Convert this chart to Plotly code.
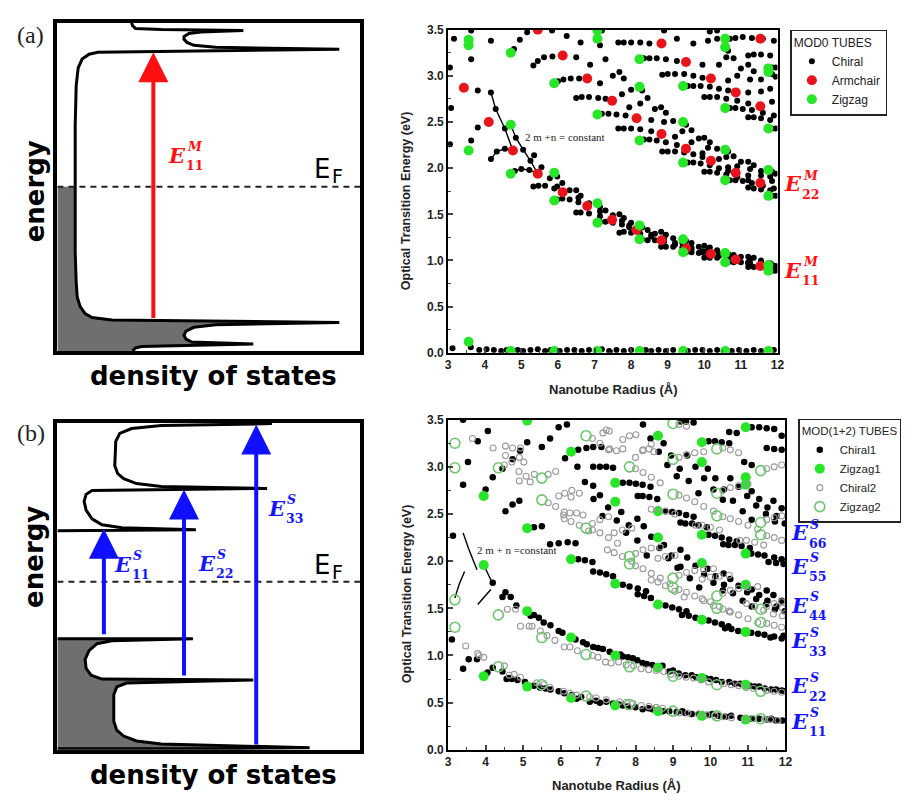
import plotly.graph_objects as go

W, H = 922, 802
def px(x): return x / W
def py(y): return 1 - y / H

# ---------------------------------------------------------------- DATA
# Panel (a): metallic (MOD0) tubes, radius (Angstrom) vs transition energy (eV)
armchair_a = [(3.43,2.87),(4.11,2.50),(4.77,2.19),(5.45,1.94),(6.13,1.74),(6.80,1.59),(7.48,1.44),(8.15,1.33),
              (8.83,1.22),(9.50,1.13),(10.18,1.07),(10.86,1.01),(11.53,0.94),
              (5.45,3.50),(6.13,3.22),(6.80,2.97),(7.48,2.73),(8.15,2.54),(8.83,2.37),(9.50,2.21),(10.18,2.08),
              (10.86,1.95),(11.53,1.84),(8.83,3.35),(9.50,3.15),(10.18,2.97),(10.86,2.82),(11.53,2.67),(11.53,3.40)]
zigzag_a = [(3.56,3.39),(3.56,3.33),(3.56,2.19),(3.56,0.12),(4.71,3.25),(4.71,2.47),(4.71,1.94),(4.71,0.02),
            (5.90,2.92),(5.90,1.95),(5.90,1.65),(5.90,0.02),(7.08,3.49),(7.08,3.40),(7.08,2.58),(7.08,1.62),
            (7.08,1.41),(7.08,0.02),(8.23,3.18),(8.23,2.88),(8.23,2.30),(8.23,1.38),(8.23,1.23),(8.23,0.02),
            (9.42,2.89),(9.42,2.50),(9.42,2.06),(9.42,1.23),(9.42,1.09),(9.42,0.02),
            (10.57,3.40),(10.57,3.31),(10.57,2.65),(10.57,2.20),(10.57,1.87),(10.57,1.08),(10.57,0.98),(10.57,0.02),
            (11.75,3.08),(11.75,3.04),(11.75,2.43),(11.75,1.98),(11.75,1.70),(11.75,0.95),(11.75,0.89),(11.75,0.02)]
chiral_a_zero = [(3.12,0.05),(3.62,0.06),(3.85,0.03),(4.05,0.04),(4.25,0.03),(4.45,0.02),(4.60,0.03),(4.90,0.03),
                 (5.05,0.02),(5.25,0.03),(5.45,0.04),(5.65,0.02),(5.80,0.03),(6.05,0.02),(6.25,0.03),(6.45,0.03),
                 (6.65,0.02),(6.85,0.03),(7.20,0.04),(7.40,0.02),(7.60,0.03),(7.80,0.02),(8.00,0.03),(8.40,0.03),
                 (8.55,0.02),(8.75,0.03),(8.95,0.02),(9.15,0.03),(9.55,0.02),(9.75,0.03),(9.95,0.03),(10.15,0.02),
                 (10.35,0.03),(10.75,0.02),(10.95,0.03),(11.15,0.02),(11.35,0.03),(11.55,0.02),(11.90,0.03)]
chiral_a_e11 = [(3.05,2.26),(3.08,2.65),(3.63,2.30),(3.81,2.44),(3.63,3.18),(3.81,2.84),
                (4.17,2.10),(4.33,2.18),(4.55,2.21),(4.17,2.82),(4.30,2.64),(4.55,2.43),
                (4.82,1.97),(5.00,1.99),(5.22,1.98),(4.85,2.33),(5.05,2.20),(5.25,2.08),
                (5.33,1.80),(5.47,1.81),(5.65,1.81),(5.90,1.78),(5.35,2.14),(5.55,2.01),(5.78,1.89),(5.98,1.80),
                (5.98,1.66),(6.12,1.67),(6.32,1.66),(6.56,1.63),(5.98,1.91),(6.12,1.84),(6.32,1.76),(6.56,1.68),
                (6.50,1.52),(6.62,1.52),(6.85,1.51),(7.15,1.48),(6.50,1.76),(6.62,1.70),(6.85,1.62),(7.15,1.53),
                (7.15,1.42),(7.30,1.42),(7.50,1.41),(7.75,1.39),(7.95,1.36),(7.15,1.58),(7.30,1.54),(7.50,1.49),(7.75,1.43),(7.95,1.38),
                (7.68,1.30),(7.80,1.31),(8.00,1.30),(8.25,1.29),(8.55,1.26),(7.68,1.50),(7.80,1.46),(8.00,1.41),(8.25,1.35),(8.55,1.28),
                (8.30,1.23),(8.45,1.22),(8.65,1.22),(8.90,1.20),(9.20,1.17),(8.30,1.36),(8.45,1.33),(8.65,1.29),(8.90,1.24),(9.20,1.19),
                (8.82,1.15),(8.95,1.15),(9.15,1.15),(9.40,1.14),(9.65,1.12),(9.95,1.09),(8.82,1.31),(8.95,1.28),(9.15,1.24),(9.40,1.19),(9.65,1.14),(9.95,1.10),
                (9.50,1.09),(9.65,1.09),(9.85,1.08),(10.10,1.07),(10.40,1.05),(10.65,1.03),(9.50,1.21),(9.65,1.19),(9.85,1.15),(10.10,1.11),(10.40,1.07),(10.65,1.03),
                (10.00,1.03),(10.15,1.03),(10.35,1.03),(10.60,1.02),(10.90,1.00),(11.20,0.97),(10.00,1.16),(10.15,1.14),(10.35,1.11),(10.60,1.07),(10.90,1.02),(11.20,0.98),
                (10.65,0.98),(10.80,0.98),(11.00,0.98),(11.25,0.97),(11.55,0.96),(11.85,0.94),(10.65,1.07),(10.80,1.06),(11.00,1.04),(11.25,1.01),(11.55,0.98),(11.85,0.95),
                (11.20,0.93),(11.35,0.93),(11.55,0.93),(11.80,0.92),(11.20,1.04),(11.35,1.03),(11.55,1.00),(11.80,0.97),
                (11.85,0.89),(11.95,0.89),(11.85,0.95),(11.95,0.94)]
chiral_a_e22 = [(4.17,3.38),(4.80,3.29),(4.96,3.39),(5.16,3.47),(5.33,3.11),(5.45,3.16),(5.62,3.20),(5.85,3.21),
                (6.00,2.94),(6.15,2.96),(6.35,2.97),(6.58,2.97),(6.50,2.76),(6.65,2.77),(6.85,2.77),(7.10,2.76),(7.30,2.75),
                (7.20,2.59),(7.38,2.59),(7.60,2.58),(7.85,2.57),(7.65,2.43),(7.80,2.43),(8.00,2.43),(8.25,2.42),(8.55,2.40),
                (8.35,2.31),(8.50,2.31),(8.70,2.30),(8.95,2.28),(9.25,2.25),(8.85,2.18),(9.00,2.18),(9.20,2.18),(9.45,2.17),(9.70,2.15),(9.95,2.12),
                (9.55,2.06),(9.70,2.06),(9.90,2.05),(10.15,2.03),(10.40,2.00),(10.65,1.97),(10.00,1.96),(10.15,1.96),(10.35,1.95),(10.60,1.93),(10.90,1.90),(11.20,1.87),
                (10.70,1.87),(10.85,1.87),(11.05,1.86),(11.30,1.84),(11.60,1.81),(11.90,1.78),(11.20,1.79),(11.35,1.78),(11.55,1.77),(11.80,1.76),
                (11.85,1.70),(11.95,1.70),
                (6.24,3.43),(6.50,3.20),(6.62,3.36),(6.88,3.12),(7.15,2.92),(7.15,3.33),(7.30,3.18),(7.50,3.00),(7.75,2.80),(7.95,2.66),
                (7.68,3.04),(7.80,2.97),(8.00,2.85),(8.25,2.70),(8.55,2.52),(8.30,2.84),(8.45,2.76),(8.65,2.64),(8.90,2.50),(9.20,2.34),
                (8.82,2.66),(8.95,2.60),(9.15,2.51),(9.40,2.40),(9.65,2.28),(9.95,2.16),(9.50,2.47),(9.65,2.41),(9.85,2.32),(10.10,2.22),(10.40,2.10),(10.65,2.01),
                (10.00,2.33),(10.15,2.28),(10.35,2.21),(10.60,2.12),(10.90,2.02),(11.20,1.92),(10.65,2.18),(10.80,2.13),(11.00,2.07),(11.25,1.99),(11.55,1.92),(11.85,1.86),
                (11.20,2.07),(11.35,2.03),(11.55,1.97),(11.80,1.91),(11.85,1.96),(11.95,1.94)]
chiral_a_e33 = [(3.05,3.09),(3.16,3.40),(3.63,3.49),(5.84,3.49),(7.20,3.49),(8.90,3.49),
                (7.65,3.36),(7.80,3.36),(8.00,3.36),(8.25,3.36),(8.50,3.35),(8.35,3.19),(8.50,3.19),(8.70,3.19),(8.95,3.18),(9.25,3.16),
                (8.85,3.01),(9.00,3.02),(9.20,3.02),(9.45,3.02),(9.70,3.00),(9.95,2.98),(9.55,2.89),(9.70,2.89),(9.90,2.89),(10.15,2.88),(10.40,2.86),(10.65,2.84),
                (10.00,2.77),(10.15,2.77),(10.35,2.77),(10.60,2.75),(10.90,2.73),(11.20,2.70),(10.70,2.65),(10.85,2.65),(11.05,2.64),(11.30,2.63),(11.60,2.60),(11.90,2.57),
                (11.20,2.55),(11.35,2.55),(11.55,2.54),(11.80,2.52),(11.85,2.43),(11.95,2.43),
                (9.25,3.40),(9.70,3.35),(9.95,3.12),(10.10,3.38),(10.40,3.12),(10.65,2.95),(10.35,3.40),(10.60,3.20),(10.90,3.00),(11.20,2.82),
                (10.65,3.27),(10.80,3.19),(11.00,3.08),(11.25,2.96),(11.55,2.83),(11.85,2.72),(11.20,3.12),(11.35,3.05),(11.55,2.96),(11.80,2.86),
                (11.85,3.02),(11.95,2.99),(10.70,3.40),(10.85,3.41),(11.05,3.42),(11.30,3.41),(11.60,3.40),(11.90,3.38),
                (11.20,3.22),(11.35,3.23),(11.55,3.23),(11.80,3.22),(11.85,3.09),(11.95,3.09),(10.15,3.48),(10.35,3.49)]
# lines linking members of two 2n+m families in panel (a)
family_a = [[(4.17,2.82),(4.30,2.64),(4.55,2.43),(4.77,2.19)],
            [(4.71,2.47),(4.85,2.33),(5.05,2.20),(5.25,2.08),(5.45,1.94)],
            [(4.17,2.10),(4.33,2.18),(4.55,2.21),(4.77,2.19)],
            [(4.71,1.94),(4.82,1.97),(5.00,1.99),(5.22,1.98),(5.45,1.94)]]

# Panel (b): semiconducting MOD(1+2) tubes
zigzag1_b = [(3.95,0.78),(3.95,1.96),(3.95,2.69),(5.11,0.67),(5.11,1.47),(5.11,2.35),(5.11,3.49),
             (6.28,0.55),(6.28,1.19),(6.28,2.02),(6.28,3.16),(7.46,0.47),(7.46,1.00),(7.46,1.76),(7.46,2.63),(7.46,2.83),
             (8.60,0.41),(8.60,0.87),(8.60,1.54),(8.60,2.25),(8.60,2.53),(8.60,3.33),
             (9.77,0.36),(9.77,0.76),(9.77,1.38),(9.77,1.98),(9.77,2.28),(9.77,3.05),(9.77,3.26),
             (10.94,0.32),(10.94,0.69),(10.94,1.25),(10.94,1.75),(10.94,2.08),(10.94,2.81),(10.94,2.89),(10.94,3.42)]
zigzag2_b = [(3.18,1.30),(3.18,1.59),(3.18,2.99),(3.18,3.25),(4.34,0.88),(4.34,1.43),(4.34,2.99),
             (5.50,0.69),(5.50,1.19),(5.50,2.65),(5.50,2.88),(6.68,0.57),(6.68,1.01),(6.68,2.35),(6.68,3.33),
             (7.84,0.48),(7.84,0.88),(7.84,1.97),(7.84,2.05),(7.84,3.00),
             (9.00,0.41),(9.00,0.78),(9.00,1.72),(9.00,1.82),(9.00,2.71),(9.00,3.08),(9.00,3.46),
             (10.17,0.36),(10.17,0.69),(10.17,1.50),(10.17,1.63),(10.17,2.48),(10.17,2.72),(10.17,3.19),
             (11.34,0.33),(11.34,0.62),(11.34,1.35),(11.34,1.49),(11.34,2.28),(11.34,2.41),(11.34,2.96)]
chiral1_b_low = [(3.10,1.17),(3.40,0.86),(3.55,0.96),(3.77,0.96),(4.05,0.82),(4.19,0.87),(4.45,0.83),(4.56,0.75),(4.62,0.76),
                 (4.70,0.75),(4.85,0.74),(5.05,0.72),(5.29,0.68),(5.45,0.66),(5.60,0.65),(5.73,0.64),(5.95,0.62),(6.10,0.60),
                 (6.30,0.58),(6.43,0.54),(6.55,0.56),(6.78,0.51),(6.95,0.52),(7.05,0.50),(7.22,0.51),(7.40,0.49),(7.55,0.48),
                 (7.66,0.47),(7.80,0.46),(8.00,0.45),(8.19,0.43),(8.35,0.44),(8.45,0.43),(8.73,0.41),(8.90,0.41),(9.10,0.40),
                 (9.25,0.41),(9.33,0.39),(9.50,0.38),(9.70,0.38),(9.95,0.37),(10.05,0.38),(10.21,0.36),(10.40,0.35),(10.55,0.36),
                 (10.80,0.34),(11.10,0.33),(11.30,0.33),(11.50,0.32),(11.62,0.33),(11.75,0.31),(11.92,0.31),
                 (4.19,1.77),(4.45,1.62),(4.53,1.67),(4.67,1.62),(4.82,1.53),(5.20,1.42),(5.29,1.43),(5.42,1.40),(5.55,1.35),
                 (5.73,1.32),(5.95,1.26),(6.05,1.24),(6.40,1.17),(6.60,1.14),(6.70,1.12),(6.87,1.09),(7.00,1.08),(7.13,1.07),
                 (7.31,1.04),(7.60,1.01),(7.66,0.99),(7.80,0.98),(7.93,0.97),(8.05,0.95),(8.19,0.92),(8.30,0.91),(8.45,0.90),
                 (8.72,0.89),(8.89,0.83),(9.00,0.84),(9.15,0.81),(9.33,0.79),(9.50,0.79),(9.62,0.77),(9.86,0.76),(10.00,0.75),
                 (10.15,0.74),(10.30,0.72),(10.50,0.72),(10.65,0.70),(10.80,0.70),(11.05,0.68),(11.18,0.67),(11.30,0.67),
                 (11.45,0.65),(11.62,0.64),(11.75,0.64),(11.90,0.63),(11.98,0.62)]
chiral1_b_mid = [(4.00,2.76),(4.19,2.89),(4.45,2.98),(4.72,3.08),(4.92,3.17),(4.53,2.53),(4.72,2.60),(4.90,2.64),
                 (5.29,2.36),(5.50,2.37),(5.72,2.18),(5.95,2.19),(6.19,2.20),(6.40,2.19),
                 (6.47,2.02),(6.65,2.01),(6.85,1.99),(6.87,1.89),(7.05,1.88),(7.22,1.86),(7.40,1.84),(7.66,1.75),(7.84,1.73),
                 (8.06,1.71),(8.28,1.68),(8.06,1.65),(8.23,1.63),(8.41,1.61),(8.80,1.53),(8.98,1.51),(9.16,1.49),(9.36,1.47),
                 (9.24,1.43),(9.42,1.42),(9.60,1.40),(9.95,1.37),(10.12,1.35),(10.30,1.33),(10.48,1.31),(10.39,1.29),(10.56,1.28),
                 (10.74,1.26),(11.09,1.24),(11.27,1.23),(11.44,1.22),(11.60,1.19),(11.70,1.20),(11.90,1.18),(11.95,1.21),
                 (6.45,3.00),(6.65,2.84),(6.88,2.66),(7.12,2.48),(6.87,2.80),(7.05,2.70),(7.27,2.57),(7.50,2.43),(7.75,2.30),
                 (7.62,2.52),(7.82,2.38),(8.05,2.22),(8.30,2.06),(8.05,2.45),(8.22,2.37),(8.42,2.26),(8.64,2.14),(8.88,2.03),(9.12,1.93),
                 (8.76,2.17),(8.96,2.06),(9.20,1.94),(9.45,1.82),(9.70,1.72),(9.20,2.12),(9.38,2.04),(9.60,1.95),(9.83,1.86),(10.08,1.77),(10.33,1.69),
                 (9.93,1.92),(10.13,1.84),(10.36,1.75),(10.60,1.66),(10.86,1.58),(11.10,1.52),
                 (10.35,1.87),(10.53,1.81),(10.75,1.74),(10.98,1.67),(11.22,1.60),(11.48,1.54),(11.72,1.49),
                 (11.10,1.70),(11.30,1.64),(11.52,1.58),(11.76,1.52),(11.98,1.47),(11.50,1.69),(11.68,1.64),(11.90,1.58)]
chiral1_b_high = [(3.13,2.27),(3.40,2.81),(3.53,3.05),(3.79,3.27),(3.40,3.50),(4.06,3.38),(5.11,3.26),(5.50,3.21),
                  (5.72,3.30),(5.95,3.42),(6.17,3.45),(6.12,3.09),
                  (6.47,3.18),(6.69,3.20),(6.87,3.21),(7.09,3.21),(6.87,3.00),(7.05,3.00),(7.22,3.00),(7.40,2.99),
                  (7.66,2.83),(7.84,2.83),(8.01,2.82),(8.19,2.81),(8.40,2.79),(8.06,2.69),(8.19,2.69),(8.37,2.68),(8.58,2.66),
                  (8.80,2.53),(8.98,2.52),(9.16,2.51),(9.35,2.49),(9.55,2.47),(9.20,2.41),(9.33,2.40),(9.51,2.40),(9.68,2.38),(9.90,2.36),
                  (9.95,2.28),(10.12,2.27),(10.30,2.25),(10.50,2.23),(10.70,2.21),(10.34,2.18),(10.48,2.17),(10.65,2.17),(10.83,2.16),(11.05,2.14),
                  (11.09,2.08),(11.27,2.07),(11.44,2.06),(11.70,2.04),(11.90,2.02),(11.55,1.99),(11.75,1.98),(11.95,1.97),
                  (8.20,3.45),(8.40,3.30),(8.62,3.16),(8.85,3.02),(9.10,2.90),(8.75,3.25),(8.95,3.12),(9.18,2.98),(9.42,2.85),(9.68,2.72),
                  (9.38,3.12),(9.60,3.00),(9.83,2.88),(10.08,2.76),(10.33,2.65),(9.93,2.98),(10.13,2.88),(10.36,2.76),(10.60,2.64),(10.86,2.53),(11.10,2.44),
                  (10.53,2.88),(10.75,2.79),(10.98,2.69),(11.22,2.59),(11.48,2.50),(11.72,2.42),(11.10,2.74),(11.30,2.66),(11.52,2.57),(11.76,2.48),(11.98,2.40),
                  (11.68,2.64),(11.90,2.56),(9.95,3.27),(10.12,3.27),(10.30,3.26),(10.50,3.25),(10.50,3.37),(10.70,3.36),(11.10,3.42),(11.30,3.42),
                  (11.50,3.41),(11.70,3.40),(11.50,3.20),(11.70,3.19),(11.90,3.18),(9.20,3.48),(9.35,3.48),(9.55,3.47),(11.90,3.33),(10.90,3.05),(11.10,3.02)]
chiral2_b_low = [(3.47,1.10),(3.79,1.02),(3.83,1.00),(3.95,0.98),(4.50,0.89),(4.63,0.79),(4.76,0.80),(4.93,0.77),(5.37,0.71),(5.55,0.69),
                 (5.72,0.66),(6.08,0.62),(6.25,0.60),(6.43,0.58),(6.78,0.56),(6.95,0.55),(7.22,0.53),(7.57,0.51),(7.75,0.50),(7.93,0.49),
                 (8.15,0.47),(8.36,0.46),(8.55,0.45),(8.72,0.44),(9.16,0.39),(9.40,0.39),(9.68,0.38),(9.90,0.37),(10.12,0.36),(10.35,0.35),
                 (10.56,0.34),(10.92,0.33),(11.15,0.33),(11.44,0.32),(11.60,0.32),(11.80,0.31),
                 (4.58,1.49),(4.80,1.49),(4.93,1.31),(5.16,1.31),(5.24,1.31),(5.46,1.26),(5.64,1.21),(5.85,1.16),(6.10,1.09),(6.25,1.09),
                 (6.45,1.05),(6.85,1.00),(7.00,0.98),(7.20,0.93),(7.35,0.92),(7.55,0.93),(7.75,0.90),(7.95,0.89),(8.15,0.86),(8.35,0.85),
                 (8.55,0.84),(8.75,0.83),(8.95,0.80),(9.15,0.78),(9.35,0.77),(9.55,0.76),(9.75,0.74),(9.95,0.72),(10.35,0.70),(10.55,0.69),
                 (10.75,0.68),(10.95,0.66),(11.15,0.65),(11.50,0.63),(11.70,0.62),(11.90,0.61)]
chiral2_b_high = [(8.00,1.95),(8.20,1.92),(8.42,1.87),(8.66,1.82),(8.92,1.76),(8.00,2.08),(8.20,2.12),(8.42,2.14),(8.66,2.15),
                  (8.42,1.80),(8.60,1.78),(8.80,1.74),(9.05,1.68),(9.30,1.62),(8.60,2.03),(8.80,2.05),(9.05,2.06),
                  (9.16,1.70),(9.36,1.67),(9.58,1.63),(9.82,1.58),(10.08,1.53),(9.16,1.85),(9.36,1.88),(9.58,1.90),(9.82,1.91),(10.08,1.92),
                  (9.78,1.60),(10.00,1.57),(10.24,1.52),(10.50,1.47),(9.78,1.81),(10.00,1.83),(10.24,1.84),(10.50,1.85),
                  (10.33,1.49),(10.53,1.46),(10.75,1.43),(11.00,1.39),(11.26,1.35),(10.33,1.66),(10.53,1.69),(10.75,1.71),(11.00,1.72),(11.26,1.73),
                  (10.96,1.55),(11.18,1.52),(11.42,1.48),(11.68,1.44),(11.50,1.34),(11.70,1.32),(11.90,1.30),(11.50,1.52),(11.70,1.55),(11.90,1.57),
                  (11.92,1.42),(11.92,1.50),
                  (6.85,2.33),(7.05,2.30),(7.28,2.25),(7.52,2.19),(6.85,2.40),(7.05,2.44),(7.28,2.47),
                  (5.67,2.62),(5.87,2.58),(6.10,2.52),(5.67,2.92),(5.87,2.95),(6.10,2.45),(6.28,2.42),(6.50,2.38),(6.75,2.32),
                  (6.28,2.68),(6.50,2.72),(7.25,2.12),(7.43,2.09),(7.65,2.05),(7.90,2.00),(7.43,2.30),(7.65,2.33),(7.90,2.35),
                  (4.50,3.02),(4.70,3.05),(4.90,3.10),(4.90,2.85),(5.08,2.90),(5.30,2.92),
                  (6.85,3.30),(7.05,3.25),(7.28,3.18),(8.00,2.98),(8.20,2.94),(8.42,2.89),(8.66,2.83),(8.00,3.10),(8.20,3.18),(8.42,3.24),
                  (9.16,2.70),(9.36,2.67),(9.58,2.63),(9.82,2.58),(10.08,2.53),(9.16,3.10),(9.36,3.13),(9.58,3.15),(9.82,3.16),
                  (9.16,3.45),(9.36,3.43),(10.33,2.47),(10.53,2.45),(10.75,2.42),(11.00,2.38),(11.26,2.34),
                  (10.33,2.75),(10.53,2.78),(10.75,2.80),(11.00,2.82),(10.33,3.20),(10.53,3.18),(10.75,3.15),
                  (11.50,2.27),(11.70,2.25),(11.90,2.22),(11.50,2.44),(11.70,2.46),(11.90,2.48),(11.50,2.98),(11.70,3.00),(11.90,3.02),
                  (8.42,2.55),(8.60,2.55),(8.80,2.53),(9.05,2.50),(9.60,2.38),(9.78,2.38),(10.00,2.36),(10.24,2.33),
                  (10.78,2.22),(10.96,2.22),(11.18,2.20),(11.42,2.17),
                  (4.53,3.22),(4.72,3.20),(4.93,3.20),(4.53,3.12),(5.02,3.05),(4.89,2.95),(5.19,2.84),(5.95,2.69),(6.11,2.72),(6.30,2.75),
                  (6.08,2.49),(6.25,2.51),(6.43,2.51),(6.60,2.49),(7.13,3.36),(7.22,3.39),(7.30,3.38),(7.66,3.29),(7.84,3.33),(8.01,3.34),
                  (7.31,3.19),(7.49,3.17),(7.66,3.19),(8.19,3.17),(8.36,3.19),(8.49,3.16),(3.65,3.30),(4.20,3.20)]
family_b = [[(3.40,2.30),(3.55,2.13),(3.77,1.91)], [(3.95,1.96),(4.19,1.76)],
            [(3.18,1.61),(3.30,1.76),(3.44,1.89)], [(3.79,1.54),(3.97,1.62),(4.14,1.70)]]

# Schematic density-of-states curves (dos position, energy position) in drawing units
dos_a_curve = [(130,16),(131,19),(134,22),(160,23),(243,24),(200,25.5),(188,27),(183,30),(183,33),(186,36),(193,39),
               (215,41),(340,43),(140,45.5),(96,46),(87,48),(80,53),(76,62),(74,80),(73,120),(73,183),(73,250),(74,280),
               (75,295),(78,305),(83,312),(90,316),(110,318.5),(340,321),(215,323.5),(193,326),(185,330),(183,334),(185,338),
               (191,341),(253,343),(140,345.5),(134,347),(131,350)]
dos_b_upper = [(272,424),(160,426),(130,429),(118,434),(114,442),(113,467),(116,475),(122,480),(135,485),(160,488),
               (267,490),(110,492),(90,492),(84,496),(82,503),(84,512),(90,521),(100,527),(120,530),(195,532),(55,533)]
dos_b_lower = [(55,643),(192,643),(110,645),(95,648),(87,655),(83,664),(84,673),(89,680),(100,684),(253,685),(125,688),
               (115,692),(112,700),(112,727),(115,736),(122,742),(135,747),(160,750),(310,754),(200,755),(55,755)]
filled_a_top = 183
fermi_a, fermi_b = 183, 585
arrows_a = [(152, 318, 46)]
arrows_b = [(102, 640, 531), (183, 682, 491), (256, 752, 425)]
inner_labels = [(176, 151, 'M', '11', '#ff1010'), (121, 567, 'S', '11', '#1414ff'),
                (206, 566, 'S', '22', '#1414ff'), (277, 510, 'S', '33', '#1414ff')]
side_labels_a = [(180, '22'), (268, '11')]
side_labels_b = [(535, '66'), (569, '55'), (609, '44'), (645, '33'), (691, '22'), (727, '11')]

# ---------------------------------------------------------------- FIGURE
fig = go.Figure()
def xs(p): return [q[0] for q in p]
def ys(p): return [q[1] for q in p]

# (a) Kataura plot
for line in family_a:
    fig.add_trace(go.Scatter(x=xs(line), y=ys(line), mode='lines', line=dict(color='black', width=1.4),
                             showlegend=False, hoverinfo='skip', xaxis='x', yaxis='y'))
chiral_a = chiral_a_zero + chiral_a_e11 + chiral_a_e22 + chiral_a_e33
fig.add_trace(go.Scatter(x=xs(chiral_a), y=ys(chiral_a), mode='markers', name='Chiral',
                         marker=dict(color='black', size=6), xaxis='x', yaxis='y', legend='legend'))
fig.add_trace(go.Scatter(x=xs(armchair_a), y=ys(armchair_a), mode='markers', name='Armchair',
                         marker=dict(color='#e8141b', size=10), xaxis='x', yaxis='y', legend='legend'))
fig.add_trace(go.Scatter(x=xs(zigzag_a), y=ys(zigzag_a), mode='markers', name='Zigzag',
                         marker=dict(color='#27e627', size=10), xaxis='x', yaxis='y', legend='legend'))

# (b) Kataura plot
for line in family_b:
    fig.add_trace(go.Scatter(x=xs(line), y=ys(line), mode='lines', line=dict(color='black', width=1.4),
                             showlegend=False, hoverinfo='skip', xaxis='x2', yaxis='y2'))
chiral1_b = chiral1_b_low + chiral1_b_mid + chiral1_b_high
chiral2_b = chiral2_b_low + chiral2_b_high
fig.add_trace(go.Scatter(x=xs(chiral1_b), y=ys(chiral1_b), mode='markers', name='Chiral1',
                         marker=dict(color='black', size=6.5), xaxis='x2', yaxis='y2', legend='legend2'))
fig.add_trace(go.Scatter(x=xs(zigzag1_b), y=ys(zigzag1_b), mode='markers', name='Zigzag1',
                         marker=dict(color='#27e627', size=10), xaxis='x2', yaxis='y2', legend='legend2'))
fig.add_trace(go.Scatter(x=xs(chiral2_b), y=ys(chiral2_b), mode='markers', name='Chiral2',
                         marker=dict(symbol='circle-open', color='#9a9a9a', size=6, line=dict(width=1.1)),
                         xaxis='x2', yaxis='y2', legend='legend2'))
fig.add_trace(go.Scatter(x=xs(zigzag2_b), y=ys(zigzag2_b), mode='markers', name='Zigzag2',
                         marker=dict(symbol='circle-open', color='#6cc86c', size=10, line=dict(width=1.6)),
                         xaxis='x2', yaxis='y2', legend='legend2'))

# schematic (a)
fill_a = [(55, filled_a_top)] + [p for p in dos_a_curve if p[1] >= filled_a_top] + [(55, 350)]
fig.add_trace(go.Scatter(x=xs(fill_a), y=ys(fill_a), fill='toself', fillcolor='#6f6f6f', mode='lines',
                         line=dict(width=0), showlegend=False, hoverinfo='skip', xaxis='x3', yaxis='y3'))
fig.add_trace(go.Scatter(x=xs(dos_a_curve), y=ys(dos_a_curve), mode='lines', line=dict(color='black', width=3),
                         showlegend=False, hoverinfo='skip', xaxis='x3', yaxis='y3'))
fig.add_trace(go.Scatter(x=[55, 361], y=[fermi_a, fermi_a], mode='lines', line=dict(color='#222', width=2, dash='6px,5px'),
                         showlegend=False, hoverinfo='skip', xaxis='x3', yaxis='y3'))
# schematic (b)
fill_b = list(dos_b_lower) + [(55, 756)]
fig.add_trace(go.Scatter(x=xs(fill_b), y=ys(fill_b), fill='toself', fillcolor='#6f6f6f', mode='lines',
                         line=dict(width=0), showlegend=False, hoverinfo='skip', xaxis='x4', yaxis='y4'))
for seg in (dos_b_upper, dos_b_lower):
    fig.add_trace(go.Scatter(x=xs(seg), y=ys(seg), mode='lines', line=dict(color='black', width=3),
                             showlegend=False, hoverinfo='skip', xaxis='x4', yaxis='y4'))
fig.add_trace(go.Scatter(x=[55, 361], y=[fermi_b, fermi_b], mode='lines', line=dict(color='#222', width=2, dash='6px,5px'),
                         showlegend=False, hoverinfo='skip', xaxis='x4', yaxis='y4'))

ann = []
def text(x, y, t, size, color='black', family='DejaVu Sans', weight='normal', style='normal', angle=0,
         xanchor='center', yanchor='middle'):
    ann.append(dict(x=px(x), y=py(y), xref='paper', yref='paper', text=t, showarrow=False, textangle=angle,
                    xanchor=xanchor, yanchor=yanchor, borderpad=0,
                    font=dict(size=size, color=color, family=family, weight=weight, style=style)))

def elabel(x, y, sup, sub, color):
    # E with a stacked superscript / subscript pair
    text(x, y, 'E', 21, color, 'DejaVu Serif', 'bold', 'italic')
    text(x + 9, y, sup, 12.5, color, 'DejaVu Serif', 'bold', 'italic', xanchor='left', yanchor='bottom')
    text(x + 8, y + 2, sub, 12.5, color, 'DejaVu Serif', 'bold', xanchor='left', yanchor='top')

# arrows on schematics
for (x, y0, y1) in arrows_a:
    ann.append(dict(x=x, y=y1, ax=x, ay=y0, xref='x3', yref='y3', axref='x3', ayref='y3', text='', showarrow=True,
                    arrowhead=2, arrowsize=1.5, arrowwidth=4, arrowcolor='#ff1010', standoff=0))
for (x, y0, y1) in arrows_b:
    ann.append(dict(x=x, y=y1, ax=x, ay=y0, xref='x4', yref='y4', axref='x4', ayref='y4', text='', showarrow=True,
                    arrowhead=2, arrowsize=1.5, arrowwidth=4, arrowcolor='#1010ff', standoff=0))
for (x, y, sup, sub, c) in inner_labels:
    elabel(x, y, sup, sub, c)
for (y, sub) in side_labels_a:
    elabel(799, y, 'M', sub, '#ff1010')
for (y, sub) in side_labels_b:
    elabel(806, y, 'S', sub, '#1414ff')

# schematic texts
for (yy, lab, ye, ef) in [(0, '(a)', 188, 165), (406, '(b)', 560, 568)]:
    text(28, 28 + yy, lab, 24, '#222', 'Liberation Serif')
    text(32, ye, 'energy', 26, 'black', 'DejaVu Sans', 'bold', angle=-90)
    text(213, 376 + yy, 'density of states', 26, 'black', 'DejaVu Sans', 'bold')
    text(322, ef, 'E', 26, 'black', 'DejaVu Sans')
    text(332, ef + 7, 'F', 19, 'black', 'DejaVu Sans', xanchor='left')

# axis titles and family notes
text(407, 197, 'Optical Transition Energy (eV)', 12.5, '#222', 'Liberation Sans', 'bold', angle=-90)
text(617, 389, 'Nanotube Radius (Å)', 13, '#222', 'Liberation Sans', 'bold')
text(408, 597, 'Optical Transition Energy (eV)', 12.5, '#222', 'Liberation Sans', 'bold', angle=-90)
text(620, 792, 'Nanotube Radius (Å)', 13, '#222', 'Liberation Sans', 'bold')
text(527, 132, '2 m +n = constant', 11, '#222', 'Liberation Serif', xanchor='left')
text(478, 553, '2 m + n =constant', 11, '#222', 'Liberation Serif', xanchor='left')

tickfont = dict(family='Liberation Sans', size=12, color='#222', weight='bold')
kat_x = dict(range=[3, 12], dtick=1, ticks='inside', ticklen=5, tickwidth=1.5, showline=True, mirror=True,
             linecolor='black', linewidth=2, showgrid=False, zeroline=False, tickfont=tickfont,
             minor=dict(dtick=0.5, ticks='inside', ticklen=3, tickwidth=1.2))
kat_y = dict(range=[0, 3.5], dtick=0.5, tickformat='.1f', ticks='inside', ticklen=5, tickwidth=1.5, showline=True,
             mirror=True, linecolor='black', linewidth=2, showgrid=False, zeroline=False, tickfont=tickfont,
             minor=dict(dtick=0.25, ticks='inside', ticklen=3, tickwidth=1.2))
box = dict(showline=True, mirror=True, linecolor='black', linewidth=3.5, showgrid=False, zeroline=False,
           showticklabels=False, ticks='')

legend_common = dict(bgcolor='white', bordercolor='#222', borderwidth=1.5, xanchor='left', yanchor='top',
                     tracegroupgap=0, itemwidth=30)
fig.update_layout(
    width=W, height=H, margin=dict(l=0, r=0, t=0, b=0), paper_bgcolor='white', plot_bgcolor='white',
    xaxis=dict(domain=[px(450), px(783)], anchor='y', **kat_x),
    yaxis=dict(domain=[py(352), py(23)], anchor='x', **kat_y),
    xaxis2=dict(domain=[px(450), px(791)], anchor='y2', **kat_x),
    yaxis2=dict(domain=[py(756), py(420)], anchor='x2', **kat_y),
    xaxis3=dict(domain=[px(55), px(361)], anchor='y3', range=[55, 361], **box),
    yaxis3=dict(domain=[py(350), py(16)], anchor='x3', range=[350, 16], **box),
    xaxis4=dict(domain=[px(55), px(361)], anchor='y4', range=[55, 361], **box),
    yaxis4=dict(domain=[py(756), py(423)], anchor='x4', range=[756, 423], **box),
    legend=dict(x=px(796), y=py(23), title=dict(text='MOD0 TUBES', font=dict(size=12)),
                font=dict(family='Liberation Sans', size=12, color='#222'), **legend_common),
    legend2=dict(x=px(804), y=py(419), title=dict(text='MOD(1+2) TUBES', font=dict(size=11.5)),
                 font=dict(family='Liberation Sans', size=11.5, color='#222'), **legend_common),
    annotations=ann, showlegend=True,
)
fig.write_html('out.html')
